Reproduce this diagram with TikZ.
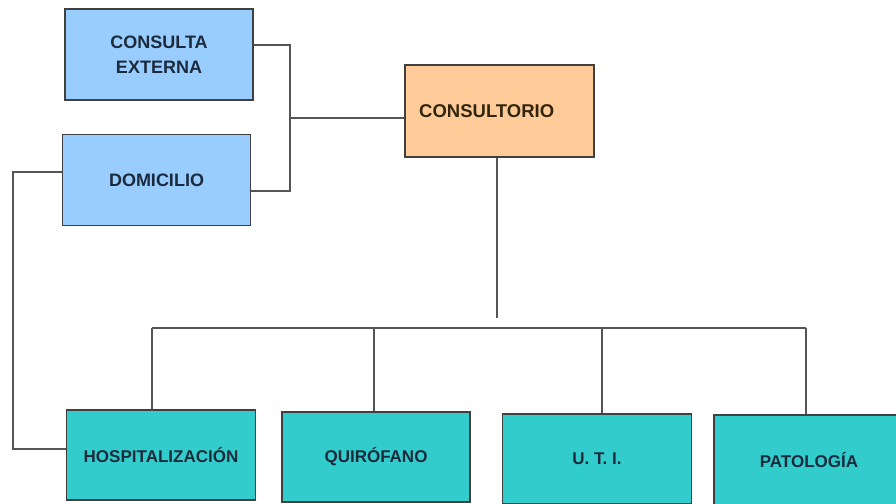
\documentclass[tikz,border=0pt]{standalone}
\usepackage{fontspec}
\newfontfamily\labfont{Liberation Sans}
\definecolor{lblue}{HTML}{99CCFF}
\definecolor{lorange}{HTML}{FFCC99}
\definecolor{lteal}{HTML}{33CCCC}
\definecolor{boxline}{HTML}{404040}
\definecolor{conn}{HTML}{555555}
\definecolor{txtblue}{HTML}{1C2B3C}
\definecolor{txtbrown}{HTML}{33260F}
\begin{document}
\begin{tikzpicture}[x=1pt,y=-1pt,
  box/.style={draw=boxline,line width=1.5pt,rectangle,inner sep=0pt,align=center,
    font=\labfont\bfseries\fontsize{18}{25}\selectfont,text=txtblue},
  bluebox/.style={box,fill=lblue,minimum width=188pt,minimum height=91pt},
  orangebox/.style={box,fill=lorange,minimum width=189pt,minimum height=92pt,text=txtbrown},
  tealbox/.style={box,fill=lteal,minimum width=189pt,minimum height=90pt,
    font=\labfont\bfseries\fontsize{17}{20}\selectfont},
  link/.style={draw=conn,line width=1.5pt}]
\useasboundingbox (0,0) rectangle (896,503);
\node[bluebox] (ce) at (159,54.5) {CONSULTA\\EXTERNA};
\node[bluebox] (dom) at (156.5,180) {DOMICILIO};
\node[orangebox] (cons) at (499.5,111) {};
\node[anchor=west,font=\labfont\bfseries\fontsize{18.5}{20}\selectfont,text=txtbrown,inner sep=0pt] (consl) at (419,111) {CONSULTORIO};
\node[tealbox] (hosp) at (161,455) {HOSPITALIZACIÓN};
\node[tealbox,minimum width=188pt] (quir) at (376,457) {QUIRÓFANO};
\node[tealbox] (uti) at (597,459) {U. T. I.};
\node[tealbox,minimum width=190pt] (pat) at (809,460) {PATOLOGÍA};
\coordinate (jx) at (290,118);
\draw[link] (ce.east |- 0,45) -| (jx) -- (cons.west |- jx);
\draw[link] (jx) |- (dom.east |- 0,191);
\draw[link] (dom.west |- 0,172) -- (13,172) |- (hosp.west |- 0,449);
\draw[link] (cons.south -| 497,0) -- (497,318);
\draw[link] (152,328) -- (806,328);
\draw[link] (152,328) -- (hosp.north -| 152,0);
\draw[link] (374,328) -- (quir.north -| 374,0);
\draw[link] (602,328) -- (uti.north -| 602,0);
\draw[link] (806,328) -- (pat.north -| 806,0);
\end{tikzpicture}
\end{document}
